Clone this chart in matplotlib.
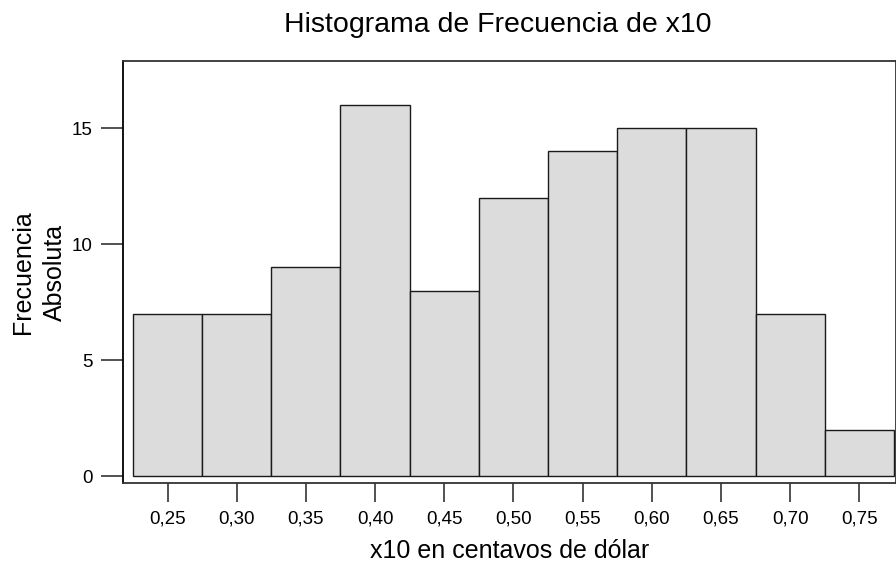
import numpy as np
import matplotlib
matplotlib.use("Agg")
import matplotlib.pyplot as plt

plt.rcParams['font.family'] = ['Liberation Sans', 'DejaVu Sans']

# bin centers and counts
centros = [0.25, 0.30, 0.35, 0.40, 0.45, 0.50, 0.55, 0.60, 0.65, 0.70, 0.75]
frecuencias = [7, 7, 9, 16, 8, 12, 14, 15, 15, 7, 2]
etiquetas_x = ['0,25', '0,30', '0,35', '0,40', '0,45', '0,50', '0,55',
               '0,60', '0,65', '0,70', '0,75']
ticks_y = [0, 5, 10, 15]
ancho = 0.05

fig = plt.figure(figsize=(8.96, 5.63), dpi=100)
ax = fig.add_axes([123 / 896, 80 / 563, 773 / 896, 422 / 563])

ax.bar(centros, frecuencias, width=ancho, color='#dcdcdc',
       edgecolor='#1a1a1a', linewidth=1.0, zorder=2)

ax.set_xlim(0.2178, 0.7765)
ax.set_ylim(-0.3, 17.9)

ax.set_xticks(centros)
ax.set_xticklabels(etiquetas_x)
ax.set_yticks(ticks_y)
ax.tick_params(axis='both', direction='out', labelsize=13.5, color='#333333')
ax.tick_params(axis='y', length=16, width=1.2, pad=6)
ax.tick_params(axis='x', length=14, width=1.2, pad=6)

for lado in ['left', 'bottom', 'top', 'right']:
    ax.spines[lado].set_color('#333333')
    ax.spines[lado].set_linewidth(1.3)
ax.spines['left'].set_color('black')

ax.set_xlabel('x10 en centavos de dólar', fontsize=18, labelpad=8)

# two-line y label placed by hand so it stays inside the figure
fig.text(39 / 896, 1 - 272 / 563, 'Frecuencia\nAbsoluta', fontsize=18,
         rotation=90, ha='center', va='center', multialignment='center',
         linespacing=1.45)

fig.text(498 / 896, 1 - 25 / 563, 'Histograma de Frecuencia de x10',
         fontsize=20.5, ha='center', va='center')

fig.savefig('out.png', dpi=100)
